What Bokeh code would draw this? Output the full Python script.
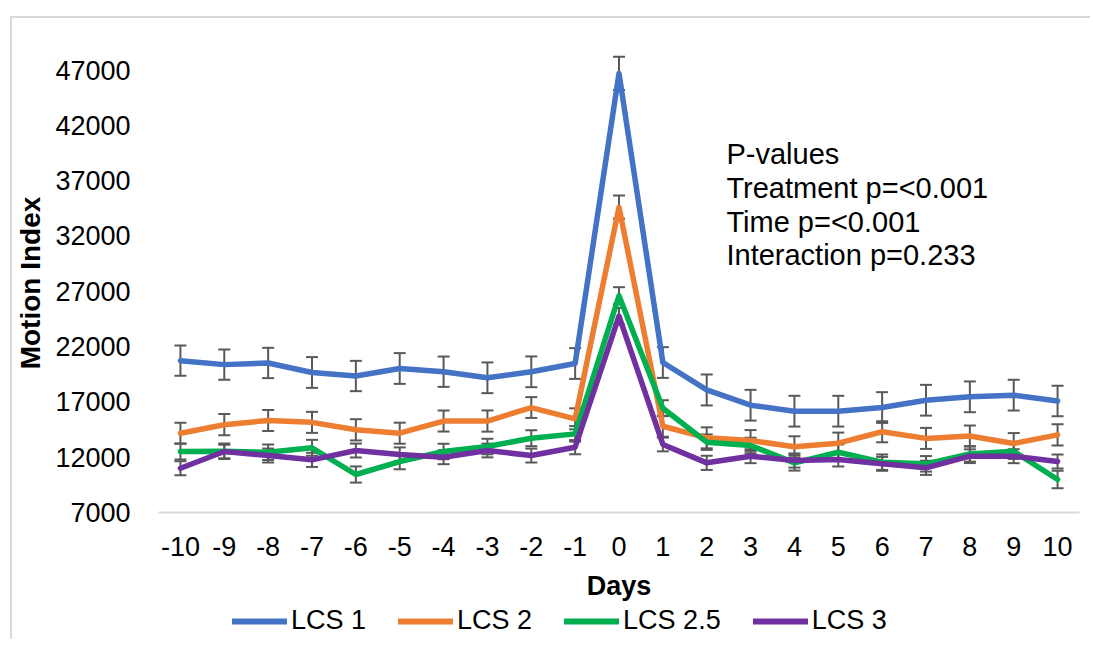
from bokeh.plotting import figure
from bokeh.layouts import column
from bokeh.models import (FactorRange, Range1d, FixedTicker, ColumnDataSource, Whisker,
                          TeeHead, Legend, LegendItem, Label)
from bokeh.embed import file_html
from bokeh.resources import INLINE

days = ["-10", "-9", "-8", "-7", "-6", "-5", "-4", "-3", "-2", "-1", "0",
        "1", "2", "3", "4", "5", "6", "7", "8", "9", "10"]

lcs1 = [20730, 20370, 20520, 19660, 19340, 20020, 19730, 19180, 19720, 20470, 46700,
        20560, 18080, 16700, 16160, 16160, 16490, 17150, 17460, 17610, 17080]
lcs1_err = [1370, 1370, 1370, 1390, 1370, 1390, 1370, 1390, 1390, 1390, 1500,
            1390, 1400, 1390, 1390, 1390, 1390, 1390, 1390, 1390, 1380]

lcs2 = [14160, 14940, 15320, 15150, 14475, 14170, 15270, 15270, 16490, 15470, 34600,
        14800, 13750, 13510, 12940, 13265, 14300, 13700, 13915, 13240, 14020]
lcs2_err = [950, 960, 950, 950, 960, 950, 950, 960, 940, 950, 1050,
            950, 950, 940, 950, 960, 950, 950, 950, 940, 960]

lcs25 = [12515, 12540, 12450, 12850, 10435, 11610, 12515, 12966, 13717, 14110, 26600,
         16430, 13360, 13060, 11490, 12450, 11550, 11400, 12300, 12540, 9985]
lcs25_err = [720, 700, 700, 720, 730, 700, 700, 700, 720, 700, 770,
             720, 700, 700, 700, 700, 700, 700, 700, 700, 800]

lcs3 = [11005, 12515, 12150, 11760, 12605, 12245, 12000, 12605, 12150, 12905, 24750,
        13150, 11490, 12090, 11700, 11790, 11400, 11040, 12090, 12090, 11610]
lcs3_err = [630, 620, 630, 640, 630, 640, 630, 620, 630, 640, 760,
            620, 640, 630, 640, 630, 630, 640, 620, 630, 640]

series_names = ["LCS 1", "LCS 2", "LCS 2.5", "LCS 3"]
series_colors = ["#4472C4", "#ED7D31", "#00B050", "#7030A0"]
y_ticks = [7000, 12000, 17000, 22000, 27000, 32000, 37000, 42000, 47000]
notes = ["P-values", "Treatment p=<0.001", "Time p=<0.001", "Interaction p=0.233"]
note_y = [39450, 36350, 33280, 30260]

FONT = "Liberation Sans"

p = figure(x_range=FactorRange(*days), y_range=Range1d(7000, 48500),
           frame_width=921, frame_height=459, output_backend="svg", toolbar_location=None,
           min_border_left=145, min_border_right=11, min_border_top=35,
           min_border_bottom=0)
p.outline_line_color = None
p.xgrid.visible = False
p.ygrid.visible = False

xa = p.xaxis[0]
xa.axis_line_color = "#d9d9d9"
xa.axis_line_width = 2
xa.major_tick_line_color = None
xa.minor_tick_line_color = None
xa.major_label_text_font = FONT
xa.major_label_text_font_size = "27px"
xa.major_label_text_color = "black"
xa.major_label_standoff = 18
xa.axis_label = "Days"
xa.axis_label_text_font = FONT
xa.axis_label_text_font_size = "27px"
xa.axis_label_text_font_style = "bold"
xa.axis_label_text_color = "black"
xa.axis_label_standoff = 12

ya = p.yaxis[0]
ya.ticker = FixedTicker(ticks=y_ticks)
ya.axis_line_color = None
ya.major_tick_line_color = None
ya.minor_tick_line_color = None
ya.major_label_text_font = FONT
ya.major_label_text_font_size = "27px"
ya.major_label_text_color = "black"
ya.major_label_standoff = 22
ya.axis_label = "Motion Index"
ya.axis_label_text_font = FONT
ya.axis_label_text_font_size = "28px"
ya.axis_label_text_font_style = "bold"
ya.axis_label_text_color = "black"
ya.axis_label_standoff = 6

all_vals = [lcs1, lcs2, lcs25, lcs3]
all_errs = [lcs1_err, lcs2_err, lcs25_err, lcs3_err]

sources = []
for vals, errs in zip(all_vals, all_errs):
    src = ColumnDataSource(dict(x=days, y=vals,
                                upper=[v + e for v, e in zip(vals, errs)],
                                lower=[v - e for v, e in zip(vals, errs)]))
    sources.append(src)

for src in sources:
    w = Whisker(source=src, base="x", upper="upper", lower="lower",
                line_color="#595959", line_width=2,
                upper_head=TeeHead(size=12, line_color="#595959", line_width=2),
                lower_head=TeeHead(size=12, line_color="#595959", line_width=2))
    p.add_layout(w)

for src, name, col in zip(sources, series_names, series_colors):
    p.line(x="x", y="y", source=src, line_color=col, line_width=5.5,
           line_cap="round", line_join="round")

for t, yv in zip(notes, note_y):
    p.add_layout(Label(x=12.95, y=yv, text=t, text_font=FONT, text_font_size="29px",
                       text_color="black", text_baseline="alphabetic"))

# legend strip below the chart (placeholder renderers carry no visible data)
p2 = figure(width=1077, height=36, output_backend="svg", toolbar_location=None,
            x_range=Range1d(0, 1), y_range=Range1d(0, 1), min_border=0)
p2.axis.visible = False
p2.grid.visible = False
p2.outline_line_color = None
nan = float("nan")
items = []
for name, col in zip(series_names, series_colors):
    r = p2.line(x=[nan], y=[nan], line_color=col, line_width=6, line_cap="round")
    items.append(LegendItem(label=name, renderers=[r]))
legend = Legend(items=items, orientation="horizontal", location=(74, 3),
                glyph_width=55, glyph_height=24, label_standoff=4, spacing=32,
                border_line_color=None, background_fill_alpha=0,
                label_text_font=FONT, label_text_font_size="27px",
                label_text_color="black", padding=0, margin=0)
p2.add_layout(legend)

layout = column(p, p2, spacing=0,
                styles={"margin-left": "10px", "margin-top": "16px",
                        "border-left": "2px solid #d9d9d9",
                        "border-top": "2px solid #d9d9d9"})

open("out.html", "w").write(file_html(layout, INLINE))
